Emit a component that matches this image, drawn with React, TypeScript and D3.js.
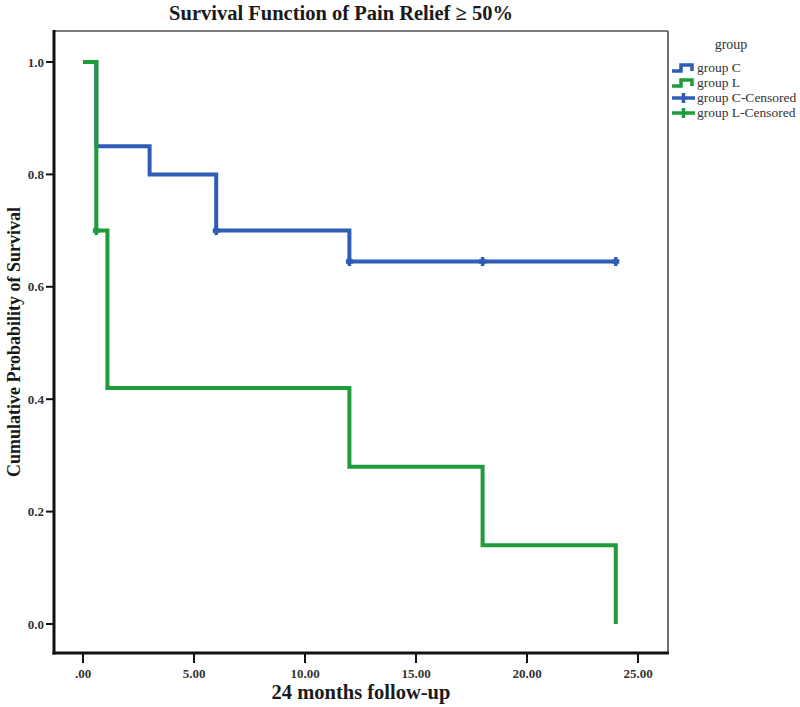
import React from "react";
import * as d3 from "d3";

// ---- data ----
const groupCTimes = [0, 0.6, 3, 6, 12, 24];
const groupCSurv = [1.0, 0.85, 0.8, 0.7, 0.645, 0.645];
const groupCCensorTimes = [6, 12, 18, 24];
const groupCCensorSurv = [0.7, 0.645, 0.645, 0.645];

const groupLTimes = [0, 0.6, 1.1, 12, 18, 24];
const groupLSurv = [1.0, 0.7, 0.42, 0.28, 0.14, 0.0];
const groupLCensorTimes = [0.6];
const groupLCensorSurv = [0.7];

const xTicks = [0, 5, 10, 15, 20, 25];
const xTickLabels = [".00", "5.00", "10.00", "15.00", "20.00", "25.00"];
const yTicks = [0, 0.2, 0.4, 0.6, 0.8, 1.0];
const yTickLabels = ["0.0", "0.2", "0.4", "0.6", "0.8", "1.0"];

const legendLabels = ["group C", "group L", "group C-Censored", "group L-Censored"];

const BLUE = "#2f5cb6";
const GREEN = "#1f9b3b";
const FONT = "'Liberation Serif', 'Times New Roman', serif";

export default function App() {
  const frame = { left: 54, right: 668, top: 31, bottom: 653 };
  const x = d3.scaleLinear().domain([0, 25]).range([83, 638]);
  const y = d3.scaleLinear().domain([0, 1]).range([624, 62]);

  const line = d3
    .line<[number, number]>()
    .x((d) => x(d[0]))
    .y((d) => y(d[1]))
    .curve(d3.curveStepAfter);

  const cPts = groupCTimes.map((t, i) => [t, groupCSurv[i]] as [number, number]);
  const lPts = groupLTimes.map((t, i) => [t, groupLSurv[i]] as [number, number]);

  const censor = (tx: number, sv: number, color: string, key: string) => (
    <g key={key}>
      <line x1={x(tx)} x2={x(tx)} y1={y(sv) - 4.5} y2={y(sv) + 4.5} stroke={color} strokeWidth={3.5} />
      <line x1={x(tx) - 3.5} x2={x(tx) + 3.5} y1={y(sv)} y2={y(sv)} stroke={color} strokeWidth={4.5} />
    </g>
  );

  const legendRows = [68, 83, 98, 113];
  const lx0 = 672;
  const lx1 = 695;

  return (
    <svg
      width={800}
      height={707}
      style={{ position: "absolute", left: 0, top: 0, background: "#fff" }}
      fontFamily={FONT}
    >
      <rect x={0} y={0} width={800} height={707} fill="#fff" />
      {/* title */}
      <text x={341} y={20} textAnchor="middle" fontSize={20.5} fontWeight="bold" fill="#1a1a1a">
        Survival Function of Pain Relief ≥ 50%
      </text>

      {/* frame top/right */}
      <line x1={frame.left} x2={frame.right} y1={frame.top} y2={frame.top} stroke="#4a4f55" strokeWidth={1.6} />
      <line x1={frame.right} x2={frame.right} y1={frame.top} y2={frame.bottom} stroke="#4a4f55" strokeWidth={1.6} />

      {/* curves */}
      <path d={line(cPts) || ""} fill="none" stroke={BLUE} strokeWidth={4} />
      <path d={line(lPts) || ""} fill="none" stroke={GREEN} strokeWidth={4} />
      {groupCCensorTimes.map((t, i) => censor(t, groupCCensorSurv[i], BLUE, "c" + i))}
      {groupLCensorTimes.map((t, i) => censor(t, groupLCensorSurv[i], GREEN, "l" + i))}

      {/* axes */}
      <line x1={frame.left} x2={frame.left} y1={frame.top - 1} y2={frame.bottom + 1.5} stroke="#111" strokeWidth={3} />
      <line x1={frame.left - 1.5} x2={frame.right + 1} y1={frame.bottom} y2={frame.bottom} stroke="#111" strokeWidth={3} />

      {yTicks.map((v, i) => (
        <g key={"yt" + i}>
          <line x1={frame.left - 8} x2={frame.left} y1={y(v)} y2={y(v)} stroke="#111" strokeWidth={2} />
          <text x={frame.left - 10} y={y(v) + 4.5} textAnchor="end" fontSize={13} fontWeight="bold" fill="#333">
            {yTickLabels[i]}
          </text>
        </g>
      ))}
      {xTicks.map((v, i) => (
        <g key={"xt" + i}>
          <line x1={x(v)} x2={x(v)} y1={frame.bottom} y2={frame.bottom + 10} stroke="#111" strokeWidth={2} />
          <text x={x(v)} y={678} textAnchor="middle" fontSize={13} fontWeight="bold" fill="#333">
            {xTickLabels[i]}
          </text>
        </g>
      ))}

      {/* axis titles */}
      <text x={361} y={699} textAnchor="middle" fontSize={20.5} fontWeight="bold" fill="#1a1a1a">
        24 months follow-up
      </text>
      <text
        transform={`translate(20, ${(frame.top + frame.bottom) / 2}) rotate(-90)`}
        textAnchor="middle"
        fontSize={18}
        fontWeight="bold"
        fill="#1a1a1a"
      >
        Cumulative Probability of Survival
      </text>

      {/* legend */}
      <text x={731} y={49} textAnchor="middle" fontSize={14} fill="#333">
        group
      </text>
      {legendLabels.map((lab, i) => {
        const cy = legendRows[i];
        const color = i % 2 === 0 ? BLUE : GREEN;
        const sym =
          i < 2 ? (
            <path
              d={`M${lx0},${cy + 3} H${lx0 + 9} V${cy - 3} H${lx1 - 3} V${cy + 3}`}
              fill="none"
              stroke={color}
              strokeWidth={3.5}
            />
          ) : (
            <g>
              <line x1={lx0} x2={lx1} y1={cy} y2={cy} stroke={color} strokeWidth={3.5} />
              <line x1={(lx0 + lx1) / 2} x2={(lx0 + lx1) / 2} y1={cy - 5} y2={cy + 5} stroke={color} strokeWidth={3.5} />
            </g>
          );
        return (
          <g key={"lg" + i}>
            {sym}
            <text x={lx1 + 2} y={cy + 4} fontSize={13.5} fill="#333">
              {lab}
            </text>
          </g>
        );
      })}
    </svg>
  );
}
